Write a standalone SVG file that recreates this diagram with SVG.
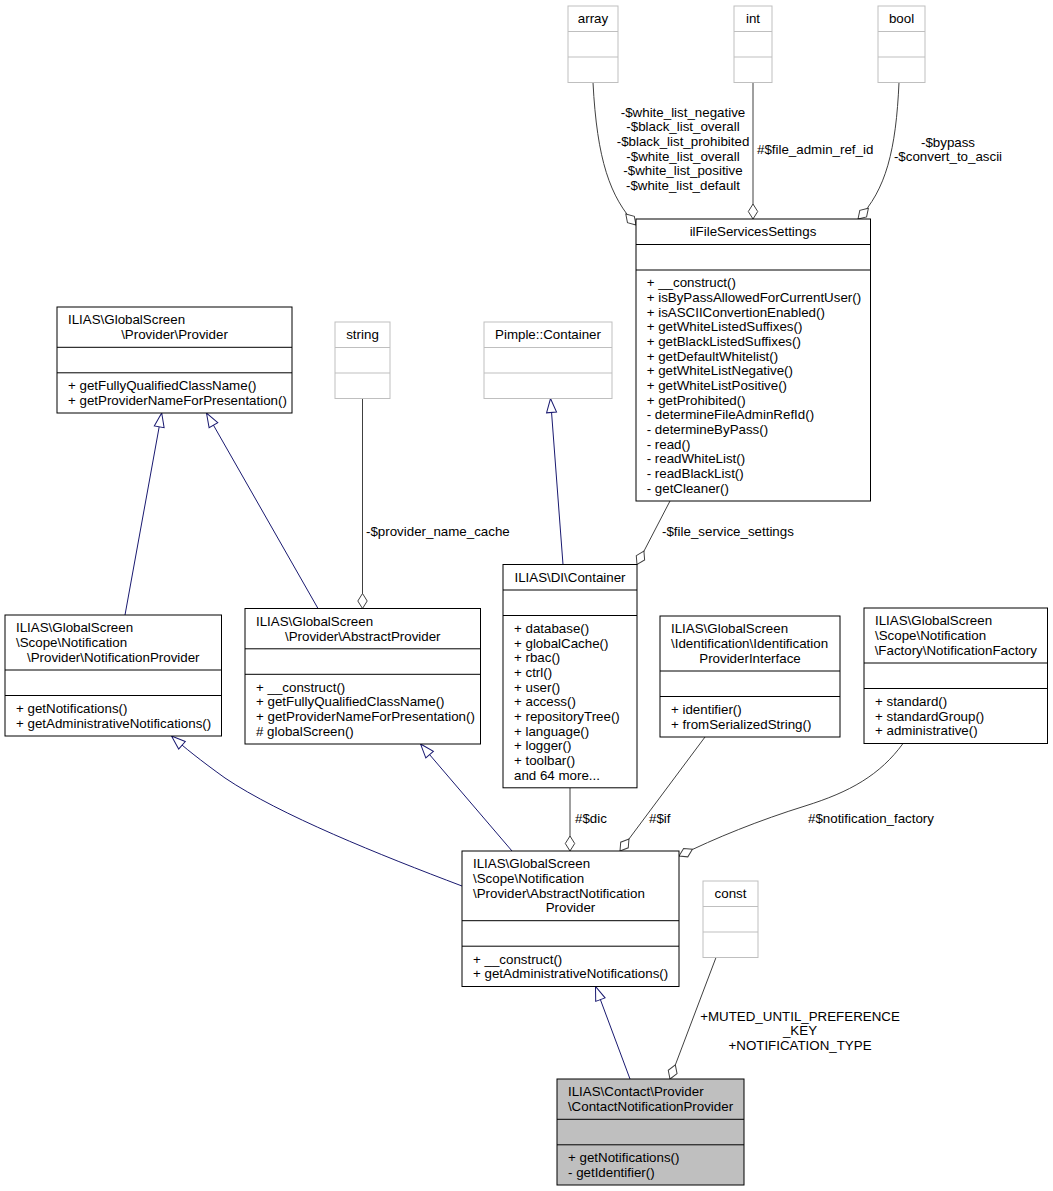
<svg xmlns="http://www.w3.org/2000/svg" width="1053" height="1191" viewBox="0 0 1053 1191">
<style>
text{font-family:"Liberation Sans",Arial,Helvetica,sans-serif;font-size:13.33px;fill:#000}
.m{text-anchor:middle}
.node rect{fill:#fff;stroke:#000;stroke-width:1}
.node line{stroke:#000;stroke-width:1}
.ext rect{stroke:#bfbfbf}
.ext line{stroke:#bfbfbf}
.cur rect{fill:#bfbfbf}
.inh{stroke:#191970;stroke-width:1;fill:none;marker-end:url(#tri)}
.agg{stroke:#404040;stroke-width:1;fill:none;marker-end:url(#dia)}
</style>
<defs>
<marker id="tri" markerUnits="userSpaceOnUse" markerWidth="20" markerHeight="20" refX="0" refY="0" orient="auto" overflow="visible"><path d="M-14,-5 L0,0 L-14,5 Z" fill="#fff" stroke="#191970" stroke-width="1"/></marker>
<marker id="dia" markerUnits="userSpaceOnUse" markerWidth="20" markerHeight="20" refX="0" refY="0" orient="auto" overflow="visible"><path d="M-15,0 L-7.5,-4.7 L0,0 L-7.5,4.7 Z" fill="#fff" stroke="#404040" stroke-width="1"/></marker>
</defs>
<rect width="1053" height="1191" fill="#fff"/>

<g id="connectors">
<path class="agg" d="M593,82.5 C597,160 610,197 636,225"/>
<path class="agg" d="M753,82.5 L753,219"/>
<path class="agg" d="M899,82.5 C896,150 886,190 858,219"/>
<path class="inh" d="M125,615 L161.7,413"/>
<path class="inh" d="M318,608.5 L206.5,413"/>
<path class="agg" d="M362.5,398.5 L362.5,608.5"/>
<path class="inh" d="M563,564.5 L550.5,398.5"/>
<path class="agg" d="M670,501 L637,564.5"/>
<path class="agg" d="M570,787.8 L570,851"/>
<path class="agg" d="M705,737 L620,851"/>
<path class="agg" d="M903,743.5 C880,775 850,792 805,806 C760,820 715,838 679,856"/>
<path class="inh" d="M462,886 C380,855 280,815 225,778 C200,760 185,748 171.5,736"/>
<path class="inh" d="M512,851 L420.5,744"/>
<path class="inh" d="M630,1079 L595.5,986.5"/>
<path class="agg" d="M716,957.5 L670,1079"/>
<text class="m" x="683" y="116.6">-$white_list_negative</text>
<text class="m" x="683" y="131.3">-$black_list_overall</text>
<text class="m" x="683" y="146">-$black_list_prohibited</text>
<text class="m" x="683" y="160.6">-$white_list_overall</text>
<text class="m" x="683" y="175.3">-$white_list_positive</text>
<text class="m" x="683" y="190">-$white_list_default</text>
<text x="757" y="153.6">#$file_admin_ref_id</text>
<text class="m" x="948" y="146.6">-$bypass</text>
<text class="m" x="948" y="161.3">-$convert_to_ascii</text>
<text x="366" y="535.6">-$provider_name_cache</text>
<text x="662" y="535.6">-$file_service_settings</text>
<text x="575" y="822.6">#$dic</text>
<text x="649" y="822.6">#$if</text>
<text x="808" y="822.6">#$notification_factory</text>
<text class="m" x="800" y="1020.6">+MUTED_UNTIL_PREFERENCE</text>
<text class="m" x="800" y="1035.3">_KEY</text>
<text class="m" x="800" y="1050">+NOTIFICATION_TYPE</text>
</g>

<g id="node-array" class="node ext">
<rect x="568" y="6" width="50" height="76.5"/>
<line x1="568" y1="31.5" x2="618" y2="31.5"/><line x1="568" y1="57" x2="618" y2="57"/>
<text class="m" x="593" y="23.3">array</text>
</g>
<g id="node-int" class="node ext">
<rect x="734" y="6" width="38" height="76.5"/>
<line x1="734" y1="31.5" x2="772" y2="31.5"/><line x1="734" y1="57" x2="772" y2="57"/>
<text class="m" x="753" y="23.3">int</text>
</g>
<g id="node-bool" class="node ext">
<rect x="878" y="6" width="47" height="76.5"/>
<line x1="878" y1="31.5" x2="925" y2="31.5"/><line x1="878" y1="57" x2="925" y2="57"/>
<text class="m" x="901.5" y="23.3">bool</text>
</g>

<g id="node-ilFileServicesSettings" class="node">
<rect x="636" y="219" width="234.5" height="282"/>
<line x1="636" y1="244.5" x2="870.5" y2="244.5"/><line x1="636" y1="270" x2="870.5" y2="270"/>
<text class="m" x="753" y="236.3">ilFileServicesSettings</text>
<text x="646.7" y="287.4">+ __construct()</text>
<text x="646.7" y="302.1">+ isByPassAllowedForCurrentUser()</text>
<text x="646.7" y="316.7">+ isASCIIConvertionEnabled()</text>
<text x="646.7" y="331.4">+ getWhiteListedSuffixes()</text>
<text x="646.7" y="346.1">+ getBlackListedSuffixes()</text>
<text x="646.7" y="360.8">+ getDefaultWhitelist()</text>
<text x="646.7" y="375.4">+ getWhiteListNegative()</text>
<text x="646.7" y="390.1">+ getWhiteListPositive()</text>
<text x="646.7" y="404.8">+ getProhibited()</text>
<text x="646.7" y="419.4">- determineFileAdminRefId()</text>
<text x="646.7" y="434.1">- determineByPass()</text>
<text x="646.7" y="448.8">- read()</text>
<text x="646.7" y="463.4">- readWhiteList()</text>
<text x="646.7" y="478.1">- readBlackList()</text>
<text x="646.7" y="492.8">- getCleaner()</text>
</g>

<g id="node-Provider" class="node">
<rect x="57" y="307" width="235" height="106"/>
<line x1="57" y1="347.3" x2="292" y2="347.3"/><line x1="57" y1="372.8" x2="292" y2="372.8"/>
<text x="68" y="324.4">ILIAS\GlobalScreen</text>
<text class="m" x="174.5" y="339.1">\Provider\Provider</text>
<text x="68" y="390.2">+ getFullyQualifiedClassName()</text>
<text x="68" y="404.9">+ getProviderNameForPresentation()</text>
</g>

<g id="node-string" class="node ext">
<rect x="335" y="322" width="55" height="76.5"/>
<line x1="335" y1="347.5" x2="390" y2="347.5"/><line x1="335" y1="373" x2="390" y2="373"/>
<text class="m" x="362.5" y="339.3">string</text>
</g>
<g id="node-PimpleContainer" class="node ext">
<rect x="484" y="322" width="128" height="76.5"/>
<line x1="484" y1="347.5" x2="612" y2="347.5"/><line x1="484" y1="373" x2="612" y2="373"/>
<text class="m" x="548" y="339.3">Pimple::Container</text>
</g>

<g id="node-NotificationProvider" class="node">
<rect x="5" y="615" width="216.5" height="121"/>
<line x1="5" y1="670" x2="221.5" y2="670"/><line x1="5" y1="695.5" x2="221.5" y2="695.5"/>
<text x="16" y="632.4">ILIAS\GlobalScreen</text>
<text x="16" y="647.1">\Scope\Notification</text>
<text class="m" x="113.25" y="661.7">\Provider\NotificationProvider</text>
<text x="16" y="712.9">+ getNotifications()</text>
<text x="16" y="727.6">+ getAdministrativeNotifications()</text>
</g>

<g id="node-AbstractProvider" class="node">
<rect x="245" y="608.5" width="235.5" height="135.5"/>
<line x1="245" y1="648.8" x2="480.5" y2="648.8"/><line x1="245" y1="674.3" x2="480.5" y2="674.3"/>
<text x="256" y="625.9">ILIAS\GlobalScreen</text>
<text class="m" x="362.75" y="640.6">\Provider\AbstractProvider</text>
<text x="256" y="691.7">+ __construct()</text>
<text x="256" y="706.4">+ getFullyQualifiedClassName()</text>
<text x="256" y="721.1">+ getProviderNameForPresentation()</text>
<text x="256" y="735.7"># globalScreen()</text>
</g>

<g id="node-DIContainer" class="node">
<rect x="503" y="564.5" width="134" height="223.3"/>
<line x1="503" y1="590" x2="637" y2="590"/><line x1="503" y1="615.5" x2="637" y2="615.5"/>
<text class="m" x="570" y="581.8">ILIAS\DI\Container</text>
<text x="514" y="632.9">+ database()</text>
<text x="514" y="647.6">+ globalCache()</text>
<text x="514" y="662.2">+ rbac()</text>
<text x="514" y="676.9">+ ctrl()</text>
<text x="514" y="691.6">+ user()</text>
<text x="514" y="706.2">+ access()</text>
<text x="514" y="720.9">+ repositoryTree()</text>
<text x="514" y="735.6">+ language()</text>
<text x="514" y="750.3">+ logger()</text>
<text x="514" y="764.9">+ toolbar()</text>
<text x="514" y="779.6">and 64 more...</text>
</g>

<g id="node-IdentificationProviderInterface" class="node">
<rect x="660" y="616" width="180" height="121"/>
<line x1="660" y1="671" x2="840" y2="671"/><line x1="660" y1="696.5" x2="840" y2="696.5"/>
<text x="671" y="633.4">ILIAS\GlobalScreen</text>
<text x="671" y="648.1">\Identification\Identification</text>
<text class="m" x="750" y="662.7">ProviderInterface</text>
<text x="671" y="713.9">+ identifier()</text>
<text x="671" y="728.6">+ fromSerializedString()</text>
</g>

<g id="node-NotificationFactory" class="node">
<rect x="864" y="608" width="183.5" height="135.5"/>
<line x1="864" y1="663" x2="1047.5" y2="663"/><line x1="864" y1="688.5" x2="1047.5" y2="688.5"/>
<text x="875" y="625.4">ILIAS\GlobalScreen</text>
<text x="875" y="640.1">\Scope\Notification</text>
<text class="m" x="955.75" y="654.7">\Factory\NotificationFactory</text>
<text x="875" y="705.9">+ standard()</text>
<text x="875" y="720.6">+ standardGroup()</text>
<text x="875" y="735.3">+ administrative()</text>
</g>

<g id="node-AbstractNotificationProvider" class="node">
<rect x="462" y="851" width="217" height="135.5"/>
<line x1="462" y1="920.7" x2="679" y2="920.7"/><line x1="462" y1="946.2" x2="679" y2="946.2"/>
<text x="473" y="868.4">ILIAS\GlobalScreen</text>
<text x="473" y="883.1">\Scope\Notification</text>
<text x="473" y="897.7">\Provider\AbstractNotification</text>
<text class="m" x="570.5" y="912.4">Provider</text>
<text x="473" y="963.6">+ __construct()</text>
<text x="473" y="978.3">+ getAdministrativeNotifications()</text>
</g>

<g id="node-const" class="node ext">
<rect x="703" y="881" width="55" height="76.5"/>
<line x1="703" y1="906.5" x2="758" y2="906.5"/><line x1="703" y1="932" x2="758" y2="932"/>
<text class="m" x="730.5" y="898.3">const</text>
</g>

<g id="node-ContactNotificationProvider" class="node cur">
<rect x="557" y="1079" width="187" height="106"/>
<line x1="557" y1="1119.3" x2="744" y2="1119.3"/><line x1="557" y1="1144.8" x2="744" y2="1144.8"/>
<text x="568" y="1096.4">ILIAS\Contact\Provider</text>
<text class="m" x="650.5" y="1111.1">\ContactNotificationProvider</text>
<text x="568" y="1162.2">+ getNotifications()</text>
<text x="568" y="1176.9">- getIdentifier()</text>
</g>
</svg>
